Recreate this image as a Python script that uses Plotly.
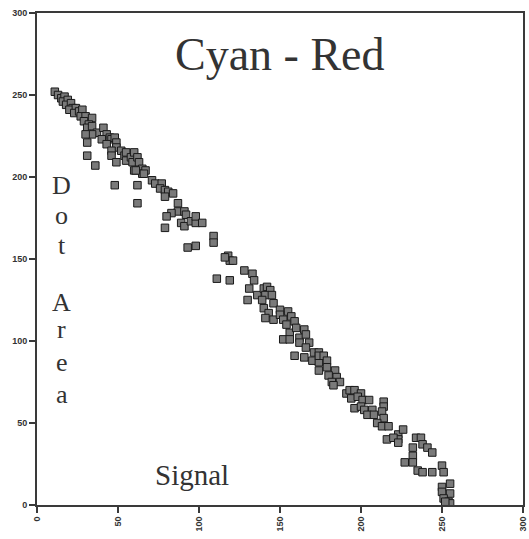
import plotly.graph_objects as go

signal = [11, 13, 15, 17, 16, 19, 18, 21, 22, 20, 24, 23, 26, 28, 27, 30, 29, 34, 32, 31,
          34, 37, 34, 30, 31, 41, 43, 40, 45, 46, 43, 48, 49, 49, 46, 46, 49, 52, 54, 55,
          55, 58, 60, 59, 62, 60, 63, 65, 65, 31, 36, 48, 62, 62,
          61, 67, 66, 71, 73, 77, 76, 79, 81, 84, 79, 87, 87, 83, 80, 91, 92, 89, 91, 95,
          98, 98, 102, 79, 109, 109, 98, 93, 118, 119, 111, 119,
          116, 121, 128, 133, 134, 131, 130, 136, 140, 142, 144, 141, 139, 145, 146, 140,
          143, 141, 146, 150, 155, 150, 152, 157, 159, 154, 156, 160, 165, 162, 152, 156,
          162, 166, 168, 166, 171, 165, 170, 174, 159, 174,
          174, 177, 179, 174, 179, 184, 180, 185, 182, 187, 183, 191, 193, 196, 200, 194,
          198, 201, 205, 196, 200, 202, 207, 204, 208, 214, 214, 213, 214, 210, 213, 217,
          223, 226, 223, 216, 220,
          223, 234, 237, 238, 241, 244, 232, 232, 227, 232, 235, 238, 244, 250, 251, 250,
          255, 250, 255, 251, 254, 255, 252]

dot_area = [252, 250, 248, 249, 246, 247, 244, 245, 242, 241, 242, 239, 240, 241, 237, 237, 234, 236, 232, 230,
            231, 227, 226, 226, 221, 230, 226, 223, 224, 223, 220, 224, 221, 218, 216, 213, 209, 216, 213, 215,
            210, 212, 215, 209, 212, 204, 209, 205, 202, 213, 207, 195, 195, 184,
            204, 204, 202, 198, 196, 196, 193, 192, 191, 190, 188, 184, 179, 178, 176, 179, 177, 172, 170, 173,
            172, 176, 172, 169, 164, 160, 158, 157, 152, 149, 138, 137,
            151, 149, 143, 141, 137, 132, 125, 128, 132, 133, 131, 128, 125, 128, 123, 120,
            117, 114, 113, 119, 118, 116, 113, 115, 112, 110, 105, 108, 107, 102, 101, 101,
            99, 104, 99, 96, 93, 90, 88, 93, 91, 87,
            91, 91, 88, 82, 84, 82, 79, 78, 75, 75, 73, 68, 70, 70, 68, 65,
            66, 64, 64, 59, 60, 58, 58, 55, 55, 63, 60, 57, 53, 50, 48, 48,
            43, 46, 40, 40, 41,
            38, 41, 41, 37, 35, 32, 35, 30, 26, 26, 21, 20, 20, 24, 20, 11,
            13, 8, 7, 4, 2, 1, 2]

tick_vals = [0, 50, 100, 150, 200, 250, 300]
tick_text = ["0", "50", "100", "150", "200", "250", "300"]

title_text = "Cyan - Red"
x_label = "Signal"
y_label_letters = ["D", "o", "t", "A", "r", "e", "a"]
y_label_pos = [0.650, 0.589, 0.528, 0.411, 0.356, 0.289, 0.224]

fig = go.Figure()
fig.add_trace(go.Scatter(
    x=signal, y=dot_area, mode="markers",
    marker=dict(symbol="square", size=7.5, color="#7a7a7a",
                line=dict(color="#1a1a1a", width=1)),
    hoverinfo="x+y", showlegend=False))

axis_common = dict(
    range=[0, 300], tickvals=tick_vals, ticktext=tick_text,
    showgrid=False, zeroline=False, showline=True, linecolor="#3a3a3a", linewidth=2,
    mirror=True, ticks="outside", ticklen=6, tickwidth=2, tickcolor="#3a3a3a",
    ticklabeloverflow="allow",
    tickfont=dict(family="Liberation Sans", size=9, color="#333333", weight="bold"),
)

fig.update_layout(
    width=529, height=539,
    margin=dict(l=37, r=1, t=13, b=34),
    paper_bgcolor="white", plot_bgcolor="white",
    xaxis=dict(axis_common, tickangle=-90),
    yaxis=dict(axis_common),
)

annotations = [
    dict(text=title_text, x=0.501, y=0.915, xref="paper", yref="paper",
         showarrow=False, xanchor="center", yanchor="middle",
         font=dict(family="Liberation Serif", size=46, color="#333333")),
    dict(text=x_label, x=0.318, y=0.061, xref="paper", yref="paper",
         showarrow=False, xanchor="center", yanchor="middle",
         font=dict(family="Liberation Serif", size=29, color="#333333")),
]
for ch, yp in zip(y_label_letters, y_label_pos):
    annotations.append(dict(text=ch, x=0.051, y=yp, xref="paper", yref="paper",
                            showarrow=False, xanchor="center", yanchor="middle",
                            font=dict(family="Liberation Serif", size=26, color="#333333")))
fig.update_layout(annotations=annotations)

fig.write_html("out.html")
